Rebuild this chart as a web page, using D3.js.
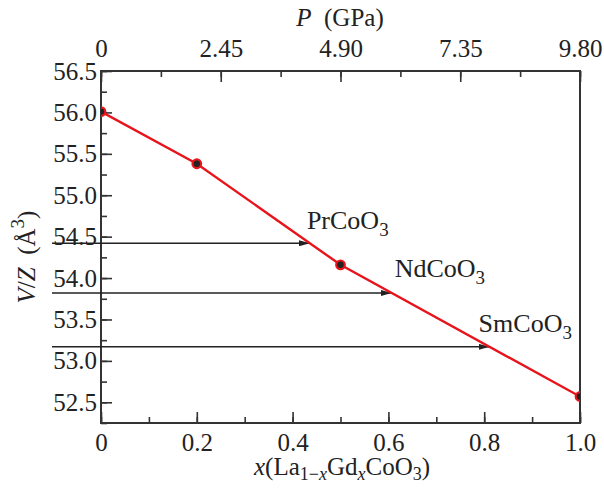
<!DOCTYPE html>
<html>
<head>
<meta charset="utf-8">
<script src="https://cdn.jsdelivr.net/npm/d3@7.9.0/dist/d3.min.js"></script>
<style>
  body { margin: 0; background: #fff; }
</style>
</head>
<body>
<svg width="604" height="488"></svg>
<script>
// composition x and cell volume per formula unit
const xValues = [0, 0.2, 0.5, 1.0];
const volumes = [56.01, 55.38, 54.16, 52.57];

// reference compounds (volume marked by arrows)
const refNames = ["PrCoO", "NdCoO", "SmCoO"];
const refVolumes = [54.42, 53.82, 53.17];

const xTicks = [0, 0.2, 0.4, 0.6, 0.8, 1.0];
const xTickLabels = ["0", "0.2", "0.4", "0.6", "0.8", "1.0"];
const yTicks = [52.5, 53.0, 53.5, 54.0, 54.5, 55.0, 55.5, 56.0, 56.5];
const pTicks = [0, 2.45, 4.9, 7.35, 9.8];
const pTickLabels = ["0", "2.45", "4.90", "7.35", "9.80"];

const serif = "Liberation Serif";
const ink = "#222";

let margin = { left: 101, right: 24, top: 71, bottom: 65 };
let width = 604 - margin.left - margin.right;
let height = 488 - margin.top - margin.bottom;

let svg = d3.select("svg");
let g = svg.append("g").attr("transform", `translate(${margin.left},${margin.top})`);

let x = d3.scaleLinear().domain([0, 1]).range([0, width]);
let p = d3.scaleLinear().domain([0, 9.8]).range([0, width]);
let y = d3.scaleLinear().domain([52.25, 56.5]).range([height, 0]);

const axisColor = "#333";

// minor + major ticks, pointing inward
function drawAxis(axis, transform) {
  let a = g.append("g").attr("transform", transform).call(axis);
  a.select(".domain").remove();
  a.attr("font-family", serif).attr("font-size", 25);
  a.selectAll("line").attr("stroke", axisColor).attr("stroke-width", 1.6);
  a.selectAll("text").attr("fill", ink);
  return a;
}

// bottom
drawAxis(d3.axisBottom(x).tickValues(d3.range(0, 1.01, 0.1)).tickSize(-6).tickFormat(""),
  `translate(0,${height})`);
drawAxis(d3.axisBottom(x).tickValues(xTicks).tickSize(-11).tickPadding(10)
  .tickFormat((d, i) => xTickLabels[i]), `translate(0,${height})`);

// top
drawAxis(d3.axisTop(p).tickValues(d3.range(0, 9.81, 1.225)).tickSize(-6).tickFormat(""),
  "translate(0,0)");
drawAxis(d3.axisTop(p).tickValues(pTicks).tickSize(-11).tickPadding(14)
  .tickFormat((d, i) => pTickLabels[i]), "translate(0,0)");

// left
drawAxis(d3.axisLeft(y).tickValues(d3.range(52.25, 56.51, 0.25)).tickSize(-6).tickFormat(""),
  "translate(0,0)");
drawAxis(d3.axisLeft(y).tickValues(yTicks).tickSize(-11).tickPadding(4)
  .tickFormat(d3.format(".1f")), "translate(0,0)");

// frame
g.append("rect")
  .attr("width", width).attr("height", height)
  .attr("fill", "none").attr("stroke", axisColor).attr("stroke-width", 2);

// arrows to the curve
svg.append("defs").append("marker")
  .attr("id", "arrow")
  .attr("viewBox", "0 0 11 6")
  .attr("refX", 11).attr("refY", 3)
  .attr("markerWidth", 11).attr("markerHeight", 6)
  .attr("markerUnits", "userSpaceOnUse")
  .attr("orient", "auto")
  .append("path").attr("d", "M0,0 L11,3 L0,6 Z").attr("fill", ink);

function xAtVolume(v) {
  for (let i = 0; i < xValues.length - 1; i++) {
    let v0 = volumes[i], v1 = volumes[i + 1];
    if (v <= v0 && v >= v1) {
      return xValues[i] + (v0 - v) / (v0 - v1) * (xValues[i + 1] - xValues[i]);
    }
  }
  return 1;
}

const labelOffsets = [[-3, -14], [3, -16], [-11, -15]];

refVolumes.forEach((v, i) => {
  let xe = xAtVolume(v);
  g.append("line")
    .attr("x1", -49).attr("x2", x(xe))
    .attr("y1", y(v)).attr("y2", y(v))
    .attr("stroke", ink).attr("stroke-width", 1.6)
    .attr("marker-end", "url(#arrow)");
  let t = g.append("text")
    .attr("x", x(xe) + labelOffsets[i][0])
    .attr("y", y(v) + labelOffsets[i][1])
    .attr("font-family", serif).attr("fill", ink)
    .attr("font-size", 26);
  t.append("tspan").text(refNames[i]);
  t.append("tspan").attr("dy", 7).attr("font-size", 19).text("3");
});

// data line
svg.append("clipPath").attr("id", "plot-clip")
  .append("rect").attr("width", width).attr("height", height);

let lineGen = d3.line().x((d) => x(d[0])).y((d) => y(d[1]));
let pts = xValues.map((d, i) => [d, volumes[i]]);

let plot = g.append("g").attr("clip-path", "url(#plot-clip)");
plot.append("path")
  .attr("d", lineGen(pts))
  .attr("fill", "none").attr("stroke", "#e8141c").attr("stroke-width", 2.4);

plot.selectAll("circle").data(pts).join("circle")
  .attr("cx", (d) => x(d[0])).attr("cy", (d) => y(d[1]))
  .attr("r", 4.3)
  .attr("fill", ink).attr("stroke", "#e8141c").attr("stroke-width", 2.2);

// axis titles
let pTitle = svg.append("text")
  .attr("x", 340).attr("y", 26)
  .attr("text-anchor", "middle").attr("font-family", serif).attr("fill", ink)
  .attr("font-size", 25);
pTitle.append("tspan").attr("font-style", "italic").text("P");
pTitle.append("tspan").text("\u2002(GPa)");

let yTitle = svg.append("text")
  .attr("transform", `translate(35,257) rotate(-90)`)
  .attr("text-anchor", "middle").attr("font-family", serif).attr("fill", ink)
  .attr("font-size", 25);
yTitle.append("tspan").attr("font-style", "italic").text("V");
yTitle.append("tspan").text("/");
yTitle.append("tspan").attr("font-style", "italic").text("Z");
yTitle.append("tspan").text("\u2002(\u00c5");
yTitle.append("tspan").attr("dy", -11).attr("font-size", 19).text("3");
yTitle.append("tspan").attr("dy", 11).text(")");

let xTitle = svg.append("text")
  .attr("x", 342).attr("y", 475)
  .attr("text-anchor", "middle").attr("font-family", serif).attr("fill", ink)
  .attr("font-size", 25);
xTitle.append("tspan").attr("font-style", "italic").text("x");
xTitle.append("tspan").text("(La");
xTitle.append("tspan").attr("dy", 5).attr("font-size", 18).text("1\u2212");
xTitle.append("tspan").attr("font-size", 18).attr("font-style", "italic").text("x");
xTitle.append("tspan").attr("dy", -5).text("Gd");
xTitle.append("tspan").attr("dy", 5).attr("font-size", 18).attr("font-style", "italic").text("x");
xTitle.append("tspan").attr("dy", -5).text("CoO");
xTitle.append("tspan").attr("dy", 5).attr("font-size", 18).text("3");
xTitle.append("tspan").attr("dy", -5).text(")");
</script>
</body>
</html>
